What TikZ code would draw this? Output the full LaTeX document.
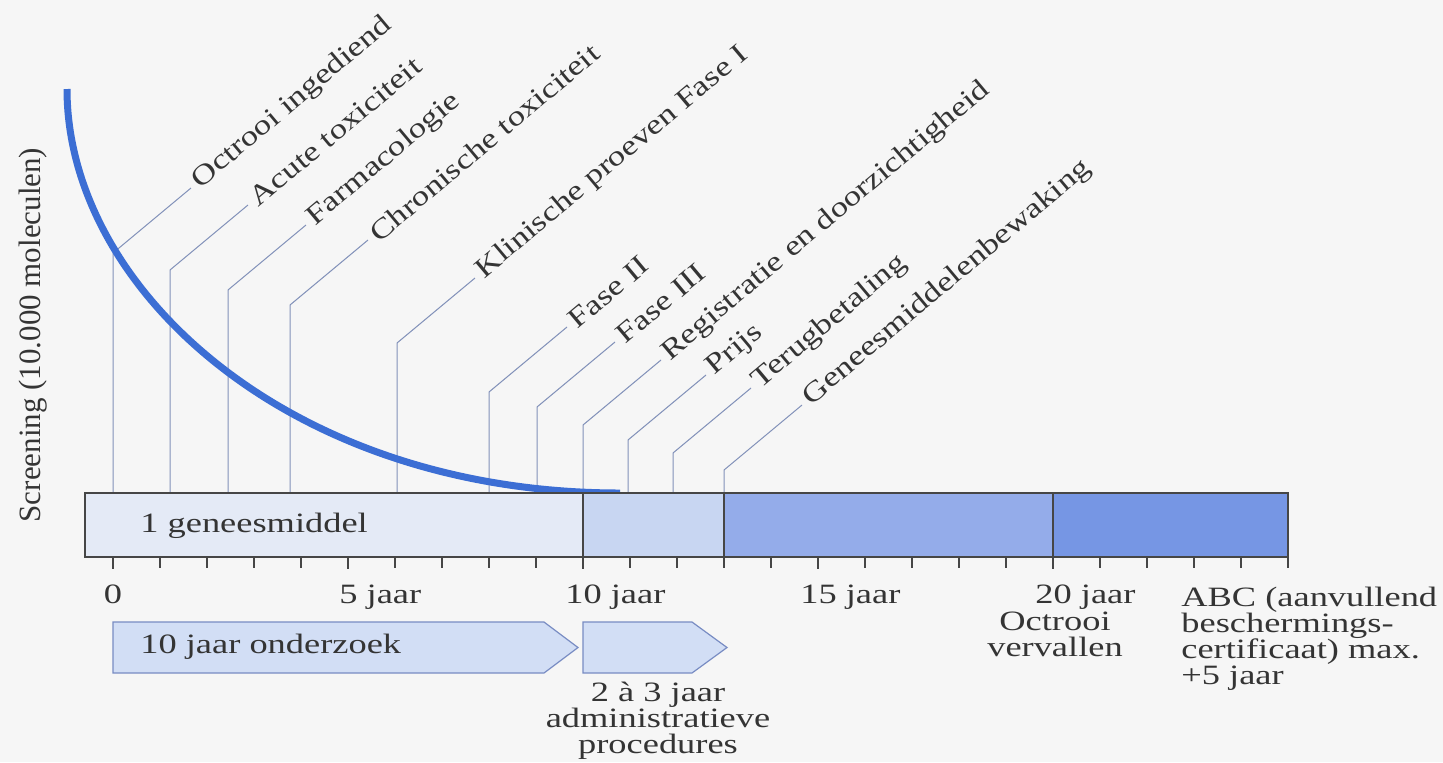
\documentclass[tikz,border=0pt]{standalone}
\usepackage{fontspec}
\setmainfont[FakeStretch=1.3]{Liberation Serif}
\newfontfamily\axisfont{Liberation Serif}
\newfontfamily\slantfont[FakeStretch=1.24]{Liberation Serif}
\usepackage{xcolor}
\usepackage{tikz}

\definecolor{paper}{RGB}{246,246,246}
\definecolor{ink}{RGB}{52,52,52}
\definecolor{curveblue}{RGB}{60,110,212}
\definecolor{leadgrey}{RGB}{130,145,185}
\definecolor{seg1}{RGB}{228,234,246}
\definecolor{seg2}{RGB}{200,214,242}
\definecolor{seg3}{RGB}{148,172,234}
\definecolor{seg4}{RGB}{118,150,228}
\definecolor{arrowfill}{RGB}{210,222,245}
\definecolor{arrowline}{RGB}{120,140,195}
\definecolor{barline}{RGB}{70,70,70}

\newcommand{\txt}{\fontsize{14}{13}\selectfont}

\tikzset{
    lbl/.style={font=\txt, text=ink, inner sep=0pt},
    stage/.style={font=\slantfont\txt, text=ink, rotate=40, anchor=west, inner sep=3pt},
    leader/.style={draw=leadgrey, line width=0.5pt},
    tick/.style={draw=barline, line width=0.6pt},
    bigtick/.style={draw=barline, line width=1.3pt},
    period/.style={fill=arrowfill, draw=arrowline, line width=0.6pt},
}

\begin{document}
\begin{tikzpicture}[x=0.5pt, y=-0.5pt]
    \fill[paper] (0,0) rectangle (1443,762);
    \useasboundingbox (0,0) rectangle (1443,762);

    \foreach \x/\h/\n/\t in {113/253/oi/Octrooi ingediend, 170/270/at/Acute toxiciteit,
            228/290/fa/Farmacologie, 290/305/ct/Chronische toxiciteit,
            397/343/kp/Klinische proeven Fase I, 489/392/ft/Fase II, 537/407/fd/Fase III,
            583/425/rd/Registratie en doorzichtigheid, 628/440/pr/Prijs,
            673/453/tb/Terugbetaling, 724/470/gb/Geneesmiddelenbewaking} {
        % Foot on the bar and bend of the leader
        \coordinate (v\n) at (\x,493);
        \coordinate (k\n) at (\x,\h);
        % Slanted label
        \node[stage] (s\n) at ([shift={(78,-65)}]k\n) {\t};
        \draw[leader] (v\n) -- (k\n) -- (s\n.west);
    }

    % Screening curve
    \draw[curveblue, line width=3.5pt] (67,89) .. controls (67,289) and (290,493) .. (620,493);

    % Bar with the four periods
    \foreach \a/\b/\c in {85/583/seg1, 583/724/seg2, 724/1053/seg3, 1053/1288/seg4} {
        \fill[\c] (\a,493) rectangle (\b,557);
    }
    \draw[barline, line width=1pt] (85,493) rectangle (1288,557);
    \foreach \x in {583,724,1053} {
        \draw[barline, line width=1pt] (\x,493) -- (\x,557);
    }
    \node[lbl, anchor=base west] (gm) at (140,532) {1 geneesmiddel};

    % Year ticks
    \foreach \i in {0,...,25} {
        \draw[tick] ({113+47*\i},557) -- ++(0,11);
    }
    \foreach \i in {0,5,...,20} {
        \draw[bigtick] ({113+47*\i},557) -- ++(0,12);
    }
    \node[lbl, anchor=base] (j0) at (113,603) {0};
    \foreach \x/\n/\t in {339/j5/5 jaar, 565/j10/10 jaar, 800/j15/15 jaar, 1035/j20/20 jaar} {
        \node[lbl, anchor=base west] (\n) at (\x,603) {\t};
    }
    \node[lbl, align=center, anchor=north] (ov) at (1055,612) {Octrooi\\vervallen};
    \node[lbl, align=left, anchor=north west] (abc) at (1181,587)
        {ABC (aanvullend\\beschermings-\\certificaat) max.\\+5 jaar};

    % Research and procedure arrows
    \draw[period] (113,622) -- (544,622) -- (578,647.5) -- (544,673) -- (113,673) -- cycle;
    \draw[period] (583,622) -- (692,622) -- (727,647.5) -- (692,673) -- (583,673) -- cycle;
    \node[lbl, anchor=base west] (oz) at (140,653) {10 jaar onderzoek};
    \node[lbl, align=center, anchor=north] (ap) at (658,682)
        {2 à 3 jaar\\administratieve\\procedures};

    % Vertical axis label
    \node[font=\axisfont\fontsize{15.5}{18}\selectfont, text=ink, rotate=90] (scr) at (33,335)
        {Screening (10.000 moleculen)};
\end{tikzpicture}
\end{document}
